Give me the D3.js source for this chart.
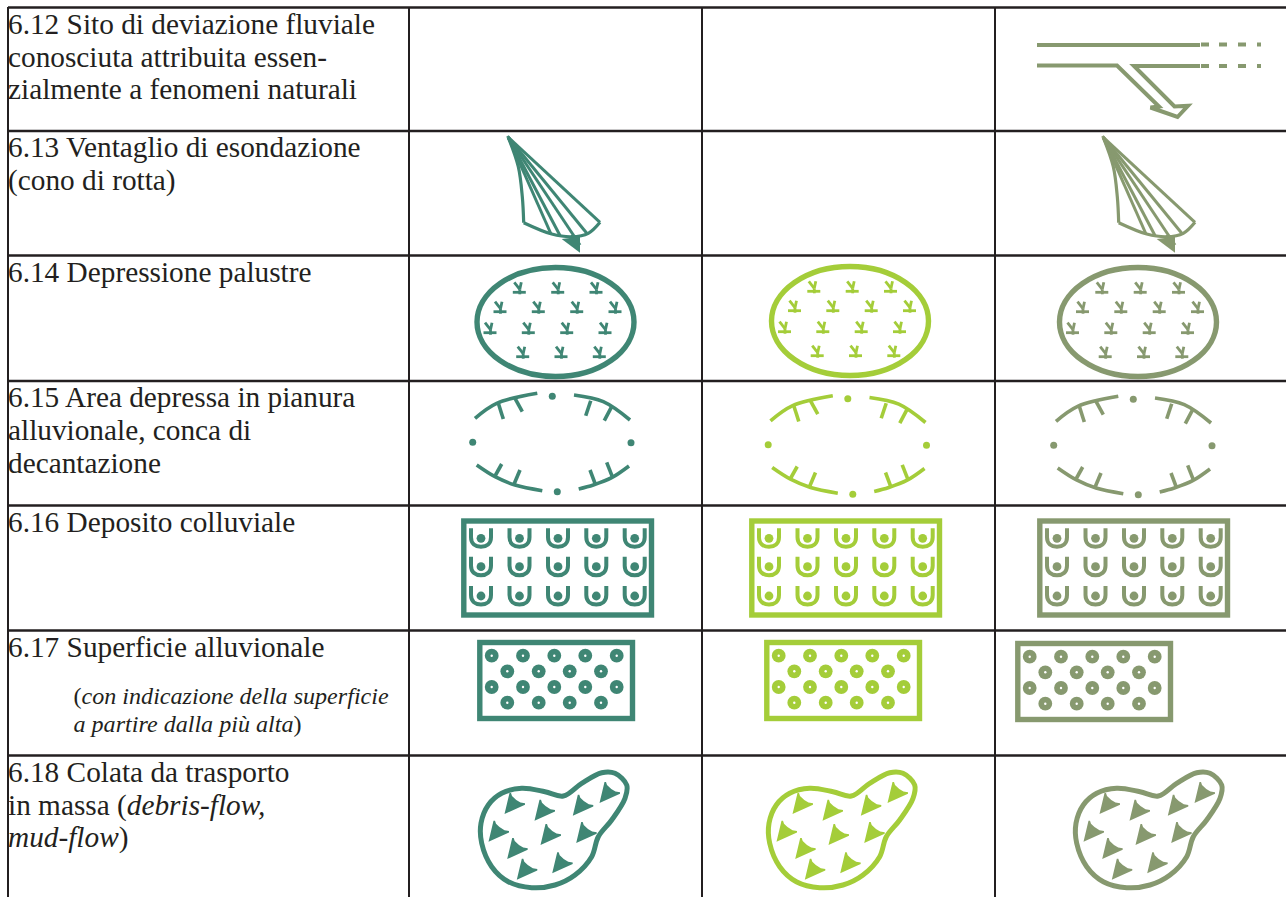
<!DOCTYPE html>
<html>
<head>
<meta charset="utf-8">
<script src="https://cdn.jsdelivr.net/npm/d3@7"></script>
<style>
  html, body { margin: 0; padding: 0; background: #fff; overflow: hidden; }
  svg { display: block; }
  text { font-family: "Liberation Serif", serif; fill: #231f20; }
</style>
</head>
<body>
<script>
var W = 1286, H = 897;

///////////////////////////////////////////////////////////////////////////////
// table

var columnEdges = [8, 409, 702, 995];
var rowEdges = [7.5, 131, 255.5, 381, 505.5, 630.5, 755.5];
var inkColors = ["#3f8674", "#a4cd39", "#87996f"];

// each line is a list of [text, italic] runs
var rowLabels = [
  [[["6.12 Sito di deviazione fluviale", 0]],
   [["conosciuta attribuita essen-", 0]],
   [["zialmente a fenomeni naturali", 0]]],
  [[["6.13 Ventaglio di esondazione", 0]],
   [["(cono di rotta)", 0]]],
  [[["6.14 Depressione palustre", 0]]],
  [[["6.15 Area depressa in pianura", 0]],
   [["alluvionale, conca di", 0]],
   [["decantazione", 0]]],
  [[["6.16 Deposito colluviale", 0]]],
  [[["6.17 Superficie alluvionale", 0]]],
  [[["6.18 Colata da trasporto", 0]],
   [["in massa (", 0], ["debris-flow,", 1]],
   [["mud-flow", 1], [")", 0]]]
];
var noteLines = [
  [["(", 0], ["con indicazione della superficie", 1]],
  [["a partire dalla più alta", 1], [")", 0]]
];

///////////////////////////////////////////////////////////////////////////////
// symbols in page units for the first column

// per row, per column: [shift x, shift y, size]; null is an empty cell
var rowPlacement = {
  deviation: [null, null, [0, 0, 1]],
  fan:       [[0, 0, 1], null, [595, 0, 1]],
  marsh:     [[0, 0, 1], [294.5, -1, 1], [582.5, 0, 1]],
  basin:     [[0, 0, 1], [295.5, 2.5, 1], [581, 3, 1]],
  colluvial: [[0, 0, 1], [288, 0, 1], [576, 0, 1]],
  alluvial:  [[0, 0, 1], [287, 0, 1], [538, 1, 1]],
  flow:      [[0, 0, 1], [288, 0, 1], [595, 0, 1]]
};

var deviationTop = [[1037, 45], [1200, 45]];
var deviationBranch = [[1037, 65.5], [1117, 65.5], [1159, 106.5], [1150.5, 107.5],
  [1177.5, 117], [1188, 105.8], [1174.5, 106.5], [1134, 66], [1200, 66]];
var deviationDashes = [[1201, 1209], [1219, 1227], [1238, 1246], [1257, 1261]];
var deviationDashRows = [44.5, 66];

var fanLeft = [[508.3, 137.3], [518.3, 166.7], [522.3, 196.7], [523.7, 222.7]];
var fanFront = [[523.7, 222.7], [551.7, 234], [571.7, 236.7], [588.3, 233.3], [600, 222.3]];
var fanRibs = [[507.5, 136], [551, 234], [560, 235.5], [580, 245], [587, 233.5], [600, 222.3]];
var fanArrow = [[561.7, 239], [580, 236.7], [580, 252.7]];

var marshEllipse = [555.5, 322, 78.5, 54.5];
var tuftRows = [
  [292.3, [519.3, 557.7, 596]],
  [311.7, [500, 538.3, 576.7, 615]],
  [332.7, [490, 528.3, 566.7, 605]],
  [356.7, [522.7, 561, 599.3]]
];

var basinArcs = [
  [[475, 418.3], [496.7, 403.3], [537.3, 393.3]],
  [[574, 395], [603.3, 401.7], [630, 420]],
  [[476.7, 465], [495, 476.7], [515, 485], [542.3, 490.7]],
  [[578.7, 489], [593.3, 485], [611.7, 477.7], [629, 466]]
];
var basinTicks = [
  [[498.3, 403.3], [503.3, 419]],
  [[515, 398.3], [522.3, 411.7]],
  [[590.7, 400.7], [585.7, 415.7]],
  [[611.7, 406.7], [604.3, 420.7]],
  [[495, 476], [501.7, 464]],
  [[514, 484.3], [520, 470]],
  [[595, 483.3], [590, 470]],
  [[612.3, 476.7], [606.7, 462.3]]
];
var basinDots = [[552.3, 396.3], [472.7, 442.3], [631, 442.7], [557.3, 491.7]];

var colluvialFrame = [463.8, 521, 651.5, 615];
var cupRows = [538.3, 566.7, 596];
var cupCols = [481, 519.5, 558, 596.3, 634.7];

var alluvialFrame = [479.8, 642.5, 632.5, 718.5];
var donutRows = [655.7, 671.3, 687, 702.7];
var donutColsOdd = [491.7, 523, 554.3, 585.3, 616.7];
var donutColsEven = [507.3, 538.7, 569.7, 601];

var flowOutline = [[563.3, 796], [545, 791.7], [521.7, 788.3], [501.7, 793.3], [488.3, 805],
  [481, 823.3], [481.7, 843.3], [491.7, 866.7], [508.3, 881.7], [531.7, 887.7], [555, 885],
  [575, 875], [591.7, 856.7], [598.3, 836.7], [611.7, 820], [625, 798.3], [626.7, 785],
  [615, 773.3], [601.7, 772.7], [581.7, 783.3]];
var flowTips = [[510, 795], [540, 801.7], [578.3, 796.7], [605, 784], [494, 822.7],
  [546, 826], [581.7, 824], [512.7, 840], [522.3, 860.7], [557.7, 854.3]];

///////////////////////////////////////////////////////////////////////////////

var svg = d3.select("body").append("svg").attr("width", W).attr("height", H);

var line = d3.line();

// scales for one symbol: from first column page units to where it sits
var placeScales = function (p, cx, cy) {
  return {
    x: d3.scaleLinear().domain([cx, cx + 100]).range([cx + p[0], cx + p[0] + 100 * p[2]]),
    y: d3.scaleLinear().domain([cy, cy + 100]).range([cy + p[1], cy + p[1] + 100 * p[2]])
  };
};

var pts = function (s, list) {
  return list.map(function (d) { return [s.x(d[0]), s.y(d[1])]; });
};

var eachPlaced = function (name, cx, cy, draw) {
  rowPlacement[name].forEach(function (p, i) {
    if (!p) return;
    var g = svg.append("g").attr("class", name);
    draw(g, placeScales(p, cx, cy), inkColors[i]);
  });
};

var drawFrame = function (g, s, color, f) {
  g.append("rect")
    .attr("x", s.x(f[0])).attr("y", s.y(f[1]))
    .attr("width", s.x(f[2]) - s.x(f[0])).attr("height", s.y(f[3]) - s.y(f[1]))
    .attr("fill", "none").attr("stroke", color).attr("stroke-width", 5.4);
};

// labels
var addRuns = function (t, runs) {
  runs.forEach(function (r) {
    t.append("tspan").text(r[0]).style("font-style", r[1] ? "italic" : "normal");
  });
};

var rowY = d3.scaleLinear().domain(d3.range(rowEdges.length)).range(rowEdges);
var labelY = d3.scaleLinear().domain([0, 1]).range([26.2, 59]);

rowLabels.forEach(function (lines, r) {
  lines.forEach(function (runs, k) {
    var t = svg.append("text")
      .attr("x", columnEdges[0])
      .attr("y", rowY(r) + labelY(k))
      .attr("font-size", 29.3);
    addRuns(t, runs);
  });
});

noteLines.forEach(function (runs, k) {
  var t = svg.append("text")
    .attr("x", 73.5)
    .attr("y", rowY(5) + 73 + k * 28)
    .attr("font-size", 24.1);
  addRuns(t, runs);
});

// grid
svg.selectAll("line.col").data(columnEdges).enter().append("line")
  .attr("class", "col")
  .attr("x1", function (d) { return d; }).attr("x2", function (d) { return d; })
  .attr("y1", 7).attr("y2", H)
  .attr("stroke", "#231f20").attr("stroke-width", 2);

svg.selectAll("line.row").data(rowEdges).enter().append("line")
  .attr("class", "row")
  .attr("x1", 8).attr("x2", W)
  .attr("y1", function (d) { return d; }).attr("y2", function (d) { return d; })
  .attr("stroke", "#231f20").attr("stroke-width", 2.4);

// 6.12
eachPlaced("deviation", 1100, 60, function (g, s, color) {
  g.append("path").attr("d", line(pts(s, deviationTop)))
    .attr("fill", "none").attr("stroke", color).attr("stroke-width", 4);
  g.append("path").attr("d", line(pts(s, deviationBranch)))
    .attr("fill", "none").attr("stroke", color).attr("stroke-width", 4);
  deviationDashRows.forEach(function (y) {
    deviationDashes.forEach(function (d) {
      g.append("path").attr("d", line(pts(s, [[d[0], y], [d[1], y]])))
        .attr("stroke", color).attr("stroke-width", 4);
    });
  });
});

// 6.13
eachPlaced("fan", 555, 190, function (g, s, color) {
  var curve = d3.line().curve(d3.curveCatmullRom);
  g.append("path").attr("d", curve(pts(s, fanLeft)))
    .attr("fill", "none").attr("stroke", color).attr("stroke-width", 3.2);
  g.append("path").attr("d", curve(pts(s, fanFront)))
    .attr("fill", "none").attr("stroke", color).attr("stroke-width", 3.2);
  fanRibs.forEach(function (d) {
    g.append("path").attr("d", line(pts(s, [fanLeft[0], d])))
      .attr("stroke", color).attr("stroke-width", 3);
  });
  g.append("path").attr("d", line(pts(s, fanArrow)) + "Z").attr("fill", color);
});

// 6.14
var drawTuft = function (g, s, color, x, y) {
  var segs = [
    [[x - 6.5, y], [x + 6.5, y]],
    [[x + 0.5, y + 2], [x + 0.5, y - 3]],
    [[x + 0.5, y - 3], [x - 5, y - 10]],
    [[x + 0.5, y - 3], [x + 2, y - 10]]
  ];
  segs.forEach(function (d) {
    g.append("path").attr("d", line(pts(s, d)))
      .attr("stroke", color).attr("stroke-width", 2.8).attr("fill", "none");
  });
};

eachPlaced("marsh", marshEllipse[0], marshEllipse[1], function (g, s, color) {
  g.append("ellipse")
    .attr("cx", s.x(marshEllipse[0])).attr("cy", s.y(marshEllipse[1]))
    .attr("rx", s.x(marshEllipse[0] + marshEllipse[2]) - s.x(marshEllipse[0]))
    .attr("ry", s.y(marshEllipse[1] + marshEllipse[3]) - s.y(marshEllipse[1]))
    .attr("fill", "none").attr("stroke", color).attr("stroke-width", 5.4);
  tuftRows.forEach(function (row) {
    row[1].forEach(function (x) { drawTuft(g, s, color, x, row[0]); });
  });
});

// 6.15
eachPlaced("basin", 555, 442, function (g, s, color) {
  var curve = d3.line().curve(d3.curveCatmullRom);
  basinArcs.forEach(function (d) {
    g.append("path").attr("d", curve(pts(s, d)))
      .attr("fill", "none").attr("stroke", color).attr("stroke-width", 3.6);
  });
  basinTicks.forEach(function (d) {
    g.append("path").attr("d", line(pts(s, d)))
      .attr("stroke", color).attr("stroke-width", 3.6);
  });
  g.selectAll("circle").data(pts(s, basinDots)).enter().append("circle")
    .attr("cx", function (d) { return d[0]; })
    .attr("cy", function (d) { return d[1]; })
    .attr("r", 3.5).attr("fill", color);
});

// 6.16
eachPlaced("colluvial", 555, 568, function (g, s, color) {
  drawFrame(g, s, color, colluvialFrame);
  cupRows.forEach(function (y) {
    cupCols.forEach(function (x) {
      var px = s.x(x), py = s.y(y);
      var p = d3.path();
      p.moveTo(s.x(x - 10), s.y(y - 10));
      p.lineTo(s.x(x - 10), s.y(y - 1));
      p.bezierCurveTo(s.x(x - 10), s.y(y + 5.5), s.x(x - 5.5), s.y(y + 8.5), px, s.y(y + 8.5));
      p.bezierCurveTo(s.x(x + 5.5), s.y(y + 8.5), s.x(x + 10), s.y(y + 5.5), s.x(x + 10), s.y(y - 1));
      p.lineTo(s.x(x + 10), s.y(y - 10));
      g.append("path").attr("d", p.toString())
        .attr("fill", "none").attr("stroke", color).attr("stroke-width", 4);
      g.append("circle").attr("cx", px).attr("cy", py).attr("r", 4.4).attr("fill", color);
    });
  });
});

// 6.17
eachPlaced("alluvial", 555, 680, function (g, s, color) {
  drawFrame(g, s, color, alluvialFrame);
  donutRows.forEach(function (y, i) {
    (i % 2 ? donutColsEven : donutColsOdd).forEach(function (x) {
      g.append("circle").attr("cx", s.x(x)).attr("cy", s.y(y)).attr("r", 6.9).attr("fill", color);
      g.append("circle").attr("cx", s.x(x)).attr("cy", s.y(y)).attr("r", 1.2).attr("fill", "#fff");
    });
  });
});

// 6.18
eachPlaced("flow", 555, 830, function (g, s, color) {
  g.append("path")
    .attr("d", d3.line().curve(d3.curveCatmullRomClosed)(pts(s, flowOutline)))
    .attr("fill", "none").attr("stroke", color).attr("stroke-width", 5);
  flowTips.forEach(function (t) {
    var p = d3.path();
    var x = t[0], y = t[1];
    p.moveTo(s.x(x - 0.5), s.y(y - 2));
    p.lineTo(s.x(x + 1), s.y(y - 2));
    p.lineTo(s.x(x + 2), s.y(y + 1));
    p.quadraticCurveTo(s.x(x + 5.5), s.y(y + 5), s.x(x + 10.5), s.y(y + 7.5));
    p.lineTo(s.x(x + 15), s.y(y + 8.2));
    p.lineTo(s.x(x + 15), s.y(y + 9.8));
    p.lineTo(s.x(x - 5.5), s.y(y + 19));
    p.closePath();
    g.append("path").attr("d", p.toString()).attr("fill", color);
  });
});
</script>
</body>
</html>
